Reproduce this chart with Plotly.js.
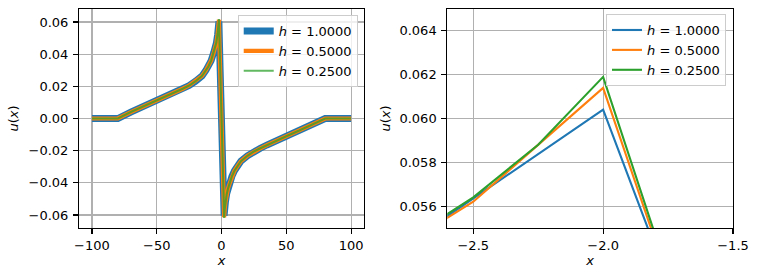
<!DOCTYPE html>
<html>
<head>
<meta charset="utf-8">
<script src="https://cdn.plot.ly/plotly-3.0.1.min.js"></script>
<style>html,body{margin:0;padding:0;background:#fff;}#plot{width:778px;height:277px;}</style>
</head>
<body>
<div id="plot"></div>
<script>
// h = 1.0000
const x1 = [-100,-90,-80,-70,-60,-50,-40,-35,-30,-25,-20,-15,-12,-10,-8,-6,-5,-4,-3,-2,-1,0,1,2,3,4,5,6,8,10,12,15,20,25,30,35,40,50,60,70,80,90,100];
const u1 = [0,0,0,0.0040,0.0075,0.0110,0.0147,0.0165,0.0185,0.0205,0.0232,0.0265,0.0300,0.0325,0.0360,0.0410,0.0435,0.0468,0.0523,0.0604,0.0290,0,-0.0290,-0.0604,-0.0523,-0.0468,-0.0435,-0.0410,-0.0360,-0.0325,-0.0300,-0.0265,-0.0232,-0.0205,-0.0185,-0.0165,-0.0147,-0.0110,-0.0075,-0.0040,0,0,0];
// h = 0.5000
const x2 = [-100,-90,-80,-70,-60,-50,-40,-35,-30,-25,-20,-15,-12,-10,-8,-6,-5,-4,-3,-2.5,-2,-1.5,-1,-0.5,0,0.5,1,1.5,2,2.5,3,4,5,6,8,10,12,15,20,25,30,35,40,50,60,70,80,90,100];
const u2 = [0,0,0,0.0040,0.0075,0.0110,0.0147,0.0165,0.0185,0.0205,0.0232,0.0265,0.0300,0.0325,0.0360,0.0410,0.0436,0.0470,0.0525,0.0562,0.0614,0.0440,0.0292,0.0146,0,-0.0146,-0.0292,-0.0440,-0.0614,-0.0562,-0.0525,-0.0470,-0.0436,-0.0410,-0.0360,-0.0325,-0.0300,-0.0265,-0.0232,-0.0205,-0.0185,-0.0165,-0.0147,-0.0110,-0.0075,-0.0040,0,0,0];
// h = 0.2500
const x3 = [-100,-90,-80,-70,-60,-50,-40,-35,-30,-25,-20,-15,-12,-10,-8,-6,-5,-4,-3,-2.75,-2.5,-2.25,-2,-1.75,-1.5,-1.25,-1,-0.5,0,0.5,1,1.25,1.5,1.75,2,2.25,2.5,2.75,3,4,5,6,8,10,12,15,20,25,30,35,40,50,60,70,80,90,100];
const u3 = [0,0,0,0.0040,0.0075,0.0110,0.0147,0.0165,0.0185,0.0205,0.0232,0.0265,0.0300,0.0325,0.0360,0.0410,0.0437,0.0471,0.0532,0.0545,0.0564,0.0588,0.0619,0.0529,0.0442,0.0365,0.0293,0.0146,0,-0.0146,-0.0293,-0.0365,-0.0442,-0.0529,-0.0619,-0.0588,-0.0564,-0.0545,-0.0532,-0.0471,-0.0437,-0.0410,-0.0360,-0.0325,-0.0300,-0.0265,-0.0232,-0.0205,-0.0185,-0.0165,-0.0147,-0.0110,-0.0075,-0.0040,0,0,0];

const labels = ['<i>h</i> = 1.0000', '<i>h</i> = 0.5000', '<i>h</i> = 0.2500'];
const colors = ['#1f77b4', '#ff7f0e', 'rgba(44,160,44,0.75)'];
const colorsRight = ['#1f77b4', '#ff7f0e', '#2ca02c'];
const xs = [x1, x2, x3];
const us = [u1, u2, u3];
const widthsLeft = [6.9, 4.2, 2.1];

const traces = [];
for (let i = 0; i < 3; i++) {
  traces.push({x: xs[i], y: us[i], type: 'scatter', mode: 'lines', name: labels[i],
    line: {color: colors[i], width: widthsLeft[i]}, xaxis: 'x', yaxis: 'y', legend: 'legend'});
}
for (let i = 0; i < 3; i++) {
  traces.push({x: xs[i], y: us[i], type: 'scatter', mode: 'lines', name: labels[i],
    line: {color: colorsRight[i], width: 2.1}, xaxis: 'x2', yaxis: 'y2', legend: 'legend2'});
}

const font = {family: 'DejaVu Sans', size: 13, color: '#000'};
const axCommon = {
  showline: true, mirror: true, linecolor: '#000', linewidth: 1.1,
  ticks: 'outside', ticklen: 4.9, tickwidth: 1.1, tickcolor: '#000',
  showgrid: true, gridcolor: '#b0b0b0', gridwidth: 1.1, zeroline: false,
  tickfont: font
};
const legendCommon = {
  bgcolor: 'rgba(255,255,255,0.8)', bordercolor: '#cccccc', borderwidth: 1,
  font: font, xanchor: 'left', yanchor: 'top', traceorder: 'normal'
};

const layout = {
  width: 778, height: 277,
  margin: {l: 79, r: 45, t: 9, b: 49},
  paper_bgcolor: '#fff', plot_bgcolor: '#fff',
  font: font,
  showlegend: true,
  xaxis: Object.assign({}, axCommon, {domain: [0, 0.4358], range: [-110, 110], tick0: 0, dtick: 50,
    anchor: 'y', title: {text: '<i>x</i>', font: font, standoff: 4}}),
  yaxis: Object.assign({}, axCommon, {range: [-0.0681, 0.0681], tick0: 0, dtick: 0.02, tickformat: '.2f',
    ticklabelstandoff: 2, anchor: 'x', title: {text: '<i>u</i>(<i>x</i>)', font: font, standoff: 7}}),
  xaxis2: Object.assign({}, axCommon, {domain: [0.5631, 1], range: [-2.6, -1.5], tick0: 0, dtick: 0.5, tickformat: '.1f',
    anchor: 'y2', title: {text: '<i>x</i>', font: font, standoff: 4}}),
  yaxis2: Object.assign({}, axCommon, {range: [0.055, 0.065], tick0: 0, dtick: 0.002, tickformat: '.3f',
    ticklabelstandoff: 2, anchor: 'x2', title: {text: '<i>u</i>(<i>x</i>)', font: font, standoff: 5}}),
  legend: Object.assign({}, legendCommon, {x: 0.2427, y: 0.9726}),
  legend2: Object.assign({}, legendCommon, {x: 0.8058, y: 0.977})
};

Plotly.newPlot('plot', traces, layout, {staticPlot: true, displayModeBar: false});
</script>
</body>
</html>
